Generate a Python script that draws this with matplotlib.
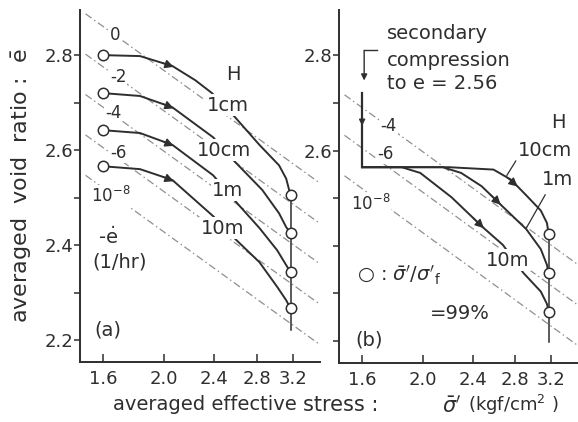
import matplotlib
matplotlib.use('Agg')
import matplotlib.pyplot as plt
from matplotlib.ticker import FixedLocator, NullLocator, FixedFormatter
import numpy as np

plt.rcParams['font.family'] = ['DejaVu Sans']
plt.rcParams['mathtext.fontset'] = 'dejavusans'

ink = '#2e2e2e'
dash = '#8f8f8f'

# ---- data ----
sig_fail = 3.17          # sigma' at 99 % of failure (circles)

# panel (a): curves for H = 1cm, 10cm, 1m, 10m
a_names = ['1cm', '10cm', '1m', '10m']
a_sig = [1.60, 1.83, 2.06, 2.24, 2.38, 2.59, 2.83, 3.04, 3.12, 3.17]
a_e_1cm = [2.800, 2.798, 2.777, 2.747, 2.720, 2.669, 2.611, 2.568, 2.540, 2.505]
a_sig2 = [1.60, 1.83, 2.06, 2.39, 2.59, 2.86, 3.04, 3.12, 3.17]
a_e_10cm = [2.720, 2.714, 2.690, 2.627, 2.575, 2.516, 2.467, 2.438, 2.425]
a_sig3 = [1.60, 1.83, 2.06, 2.39, 2.61, 2.83, 3.02, 3.12, 3.17]
a_e_1m = [2.642, 2.636, 2.611, 2.547, 2.488, 2.436, 2.389, 2.358, 2.343]
a_sig4 = [1.60, 1.83, 2.06, 2.39, 2.60, 2.83, 3.02, 3.12, 3.17]
a_e_10m = [2.566, 2.560, 2.537, 2.461, 2.411, 2.364, 2.312, 2.284, 2.267]
a_arrow_sig = 2.07

# panel (b): secondary compression to e = 2.56, then loading
b_e_start = 2.72
b_e_sec = 2.565
b_sig_10cm = [1.60, 2.20, 2.59, 2.76, 2.92, 3.08, 3.15, 3.17]
b_e_10cm = [2.565, 2.565, 2.560, 2.539, 2.506, 2.474, 2.448, 2.425]
b_sig_1m = [1.60, 2.15, 2.30, 2.48, 2.69, 2.92, 3.08, 3.15, 3.17]
b_e_1m = [2.565, 2.565, 2.553, 2.525, 2.480, 2.435, 2.393, 2.360, 2.342]
b_sig_10m = [1.60, 1.85, 1.98, 2.22, 2.50, 2.68, 2.89, 3.08, 3.15, 3.17]
b_e_10m = [2.565, 2.565, 2.553, 2.502, 2.437, 2.402, 2.343, 2.304, 2.278, 2.262]
b_arrow_sig = [2.83, 2.66, 2.50]

# isotachs (-e dot = 10^n 1/hr), end points at sigma' = 1.50 and 3.55
iso_sig = [1.50, 3.55]
iso_a_lab = ['0', '-2', '-4', '-6', '10$^{-8}$']
iso_a_e = [[2.887, 2.528], [2.802, 2.443], [2.717, 2.358], [2.632, 2.273], [2.547, 2.188]]
iso_b_lab = ['-4', '-6', '10$^{-8}$']
iso_b_e = [[2.717, 2.358], [2.632, 2.273], [2.547, 2.188]]

xticks = [1.6, 2.0, 2.4, 2.8, 3.2]
yticks = [2.2, 2.3, 2.4, 2.5, 2.6, 2.7, 2.8]
ylab_a = ['2.2', '', '2.4', '', '2.6', '', '2.8']
ylab_b = ['', '', '', '', '2.6', '', '2.8']

fig = plt.figure(figsize=(5.78, 4.22), dpi=100)
axa = fig.add_axes([80/578, 60/422, 240/578, 352/422])
axb = fig.add_axes([339/578, 59/422, 239/578, 353/422])


def setup(ax, ylabels):
    ax.set_xscale('log')
    ax.set_xlim(1.47, 3.53)
    ax.set_ylim(2.154, 2.895)
    ax.xaxis.set_major_locator(FixedLocator(xticks))
    ax.xaxis.set_minor_locator(NullLocator())
    ax.xaxis.set_major_formatter(FixedFormatter(['%.1f' % v for v in xticks]))
    ax.yaxis.set_major_locator(FixedLocator(yticks))
    ax.yaxis.set_major_formatter(FixedFormatter(ylabels))
    for s in ['top', 'right']:
        ax.spines[s].set_visible(False)
    for s in ['left', 'bottom']:
        ax.spines[s].set_linewidth(1.4)
        ax.spines[s].set_color(ink)
    ax.tick_params(axis='x', direction='in', length=6, width=1.1, colors=ink,
                   labelsize=13, pad=6)
    ax.tick_params(axis='y', direction='out', length=4, width=1.1, colors=ink,
                   labelsize=13, pad=1)
    ax.set_facecolor('none')


def iso_lines(ax, labels, es, lab_pos):
    for lab, ee, (ls, le) in zip(labels, es, lab_pos):
        ax.plot(iso_sig, ee, color=dash, lw=0.9, ls=(0, (6, 2.5, 1.2, 2.5)), zorder=1)
        ax.text(ls, le, lab, fontsize=12, color=ink, ha='center', va='center',
                bbox=dict(fc='white', ec='none', pad=0.6), zorder=3)


def curve(ax, s, e, arrow_s):
    ax.plot(s, e, color=ink, lw=1.4, zorder=2)
    ls = np.log(s)
    e_head = np.interp(np.log(arrow_s), ls, e)
    e_tail = np.interp(np.log(arrow_s / 1.04), ls, e)
    ax.annotate('', xy=(arrow_s, e_head), xytext=(arrow_s / 1.04, e_tail),
                arrowprops=dict(arrowstyle='-|>', color=ink, lw=1.0,
                                mutation_scale=13, shrinkA=0, shrinkB=0), zorder=4)


def label(ax, x, y, s, **kw):
    kw.setdefault('fontsize', 14)
    ax.text(x, y, s, color=ink, ha='center', va='center',
            bbox=dict(fc='white', ec='none', pad=0.8), zorder=5, **kw)


# ---- panel (a) ----
setup(axa, ylab_a)
iso_lines(axa, iso_a_lab, iso_a_e,
          [(1.67, 2.842), (1.69, 2.754), (1.66, 2.678), (1.69, 2.594), (1.645, 2.503)])
a_curves = [(a_sig, a_e_1cm), (a_sig2, a_e_10cm), (a_sig3, a_e_1m), (a_sig4, a_e_10m)]
for s, e in a_curves:
    curve(axa, s, e, a_arrow_sig)
a_circ_e = [e[-1] for s, e in a_curves]
axa.plot([sig_fail, sig_fail], [a_circ_e[0], 2.221], color=ink, lw=1.1, zorder=2)
axa.plot([s[0] for s, e in a_curves], [e[0] for s, e in a_curves], 'o', ms=7.5,
         mfc='white', mec=ink, mew=1.1, zorder=6)
axa.plot([sig_fail] * 4, a_circ_e, 'o', ms=7.5, mfc='white', mec=ink, mew=1.1, zorder=6)
label(axa, 2.57, 2.760, 'H')
for nm, (x, y) in zip(a_names, [(2.52, 2.695), (2.49, 2.600), (2.52, 2.516), (2.47, 2.436)]):
    label(axa, x, y, nm)
label(axa, 1.63, 2.417, r'-$\dot{\rm e}$')
label(axa, 1.70, 2.364, '(1/hr)')
label(axa, 1.63, 2.221, '(a)')

# ---- panel (b) ----
setup(axb, ylab_b)
iso_lines(axb, iso_b_lab, iso_b_e, [(1.765, 2.652), (1.745, 2.592), (1.65, 2.487)])
axb.plot([1.6, 1.6], [b_e_start, b_e_sec], color=ink, lw=1.6, zorder=2)
axb.annotate('', xy=(1.6, 2.652), xytext=(1.6, 2.672),
             arrowprops=dict(arrowstyle='-|>', color=ink, lw=1.0, mutation_scale=9,
                             shrinkA=0, shrinkB=0), zorder=4)
b_curves = [(b_sig_10cm, b_e_10cm), (b_sig_1m, b_e_1m), (b_sig_10m, b_e_10m)]
for (s, e), asg in zip(b_curves, b_arrow_sig):
    curve(axb, s, e, asg)
b_circ_e = [e[-1] for s, e in b_curves]
axb.plot([sig_fail, sig_fail], [b_circ_e[0], 2.198], color=ink, lw=1.1, zorder=2)
axb.plot([sig_fail] * 3, b_circ_e, 'o', ms=7.5, mfc='white', mec=ink, mew=1.1, zorder=6)
# bracket arrow from the note
axb.plot([1.69, 1.612], [2.810, 2.810], color=ink, lw=1.0)
axb.annotate('', xy=(1.612, 2.747), xytext=(1.612, 2.810),
             arrowprops=dict(arrowstyle='-|>', color=ink, lw=1.0, mutation_scale=9,
                             shrinkA=0, shrinkB=0))
for t, y in zip(['secondary', 'compression', 'to e = 2.56'], [2.846, 2.789, 2.741]):
    axb.text(1.75, y, t, fontsize=14, color=ink, ha='left', va='center')
# leader lines for labels
axb.plot([2.81, 2.72], [2.578, 2.548], color=ink, lw=0.9)
axb.plot([3.13, 2.92], [2.507, 2.437], color=ink, lw=0.9)
label(axb, 3.29, 2.659, 'H')
label(axb, 3.13, 2.600, '10cm')
label(axb, 3.27, 2.539, '1m')
label(axb, 2.73, 2.370, '10m')
axb.text(1.57, 2.339, r"○ : $\bar{\sigma}'/\sigma'_{\rm f}$", fontsize=14, color=ink,
         ha='left', va='center', zorder=5)
axb.text(2.29, 2.257, '=99%', fontsize=14, color=ink, ha='center', va='center')
label(axb, 1.64, 2.202, '(b)')

# axis titles, placed in pieces to follow the spaced-out typesetting
xl_y = 1 - 405/422
fig.text(113/578, xl_y, "averaged effective", fontsize=14, color=ink, ha='left', va='center')
fig.text(303/578, xl_y, "stress :", fontsize=15, color=ink, ha='left', va='center')
fig.text(452/578, xl_y, r"$\bar{\sigma}'$", fontsize=15, color=ink, ha='center', va='center')
fig.text(468/578, xl_y, r"(kgf/cm$^{2}$ )", fontsize=13, color=ink, ha='left', va='center')
fig.text(22/578, 1 - 185/422, r"averaged  void  ratio :  $\bar{\rm e}$",
         fontsize=16, color=ink, ha='center', va='center', rotation=90)

fig.savefig('out.png', dpi=100, facecolor='white')
